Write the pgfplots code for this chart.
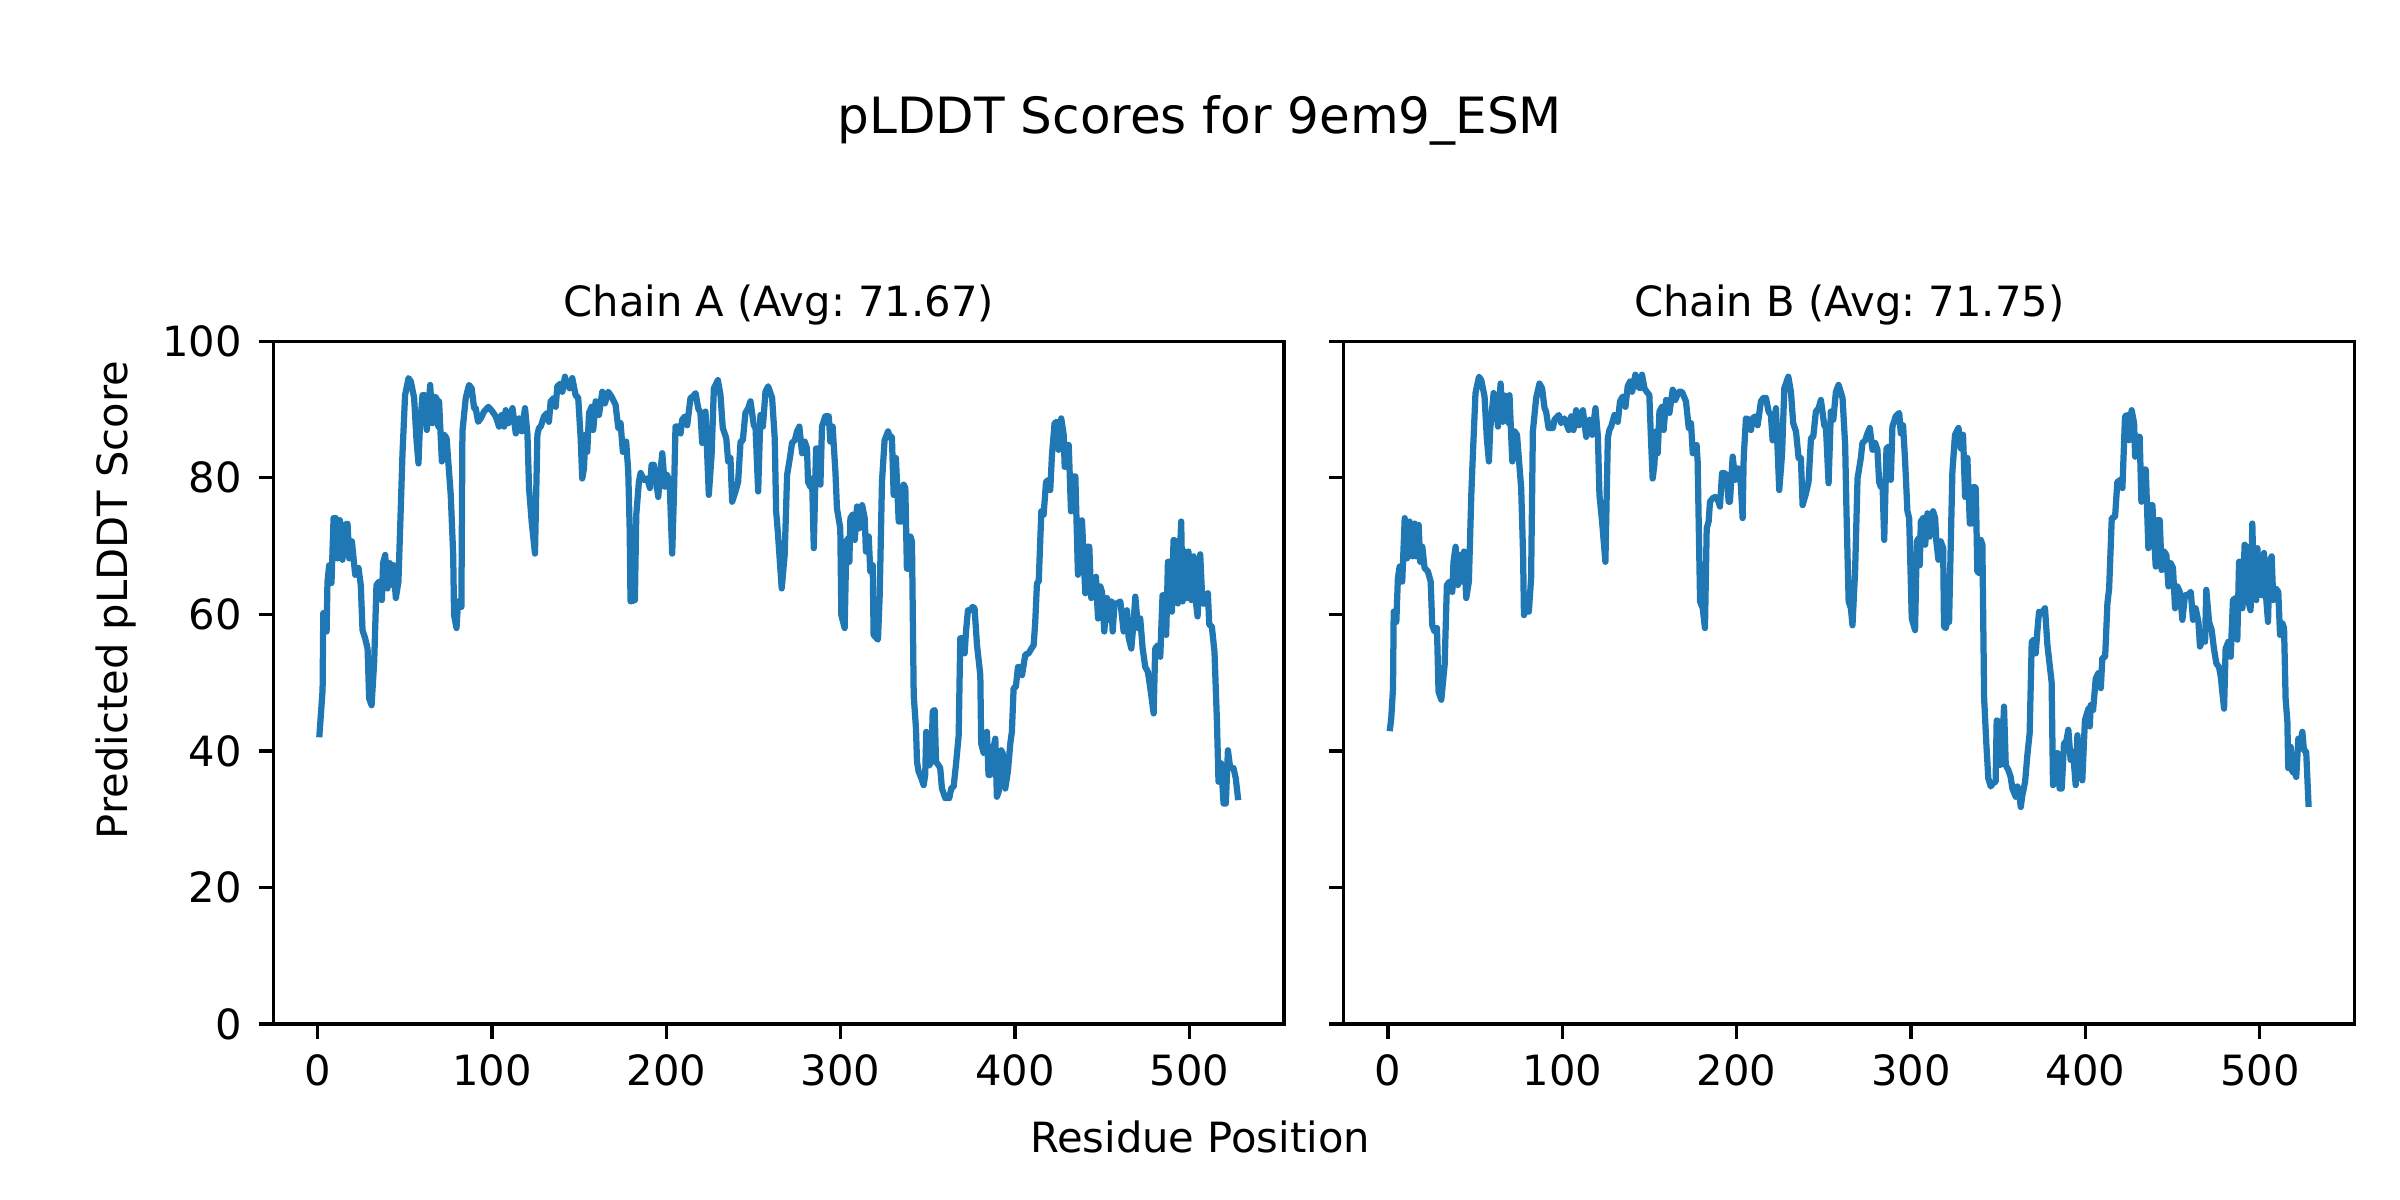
\documentclass[border=0pt]{standalone}
\usepackage{pgfplots}
\pgfplotsset{compat=1.18}
\usepackage{fontspec}
\setmainfont{DejaVu Sans}
\frenchspacing
\definecolor{mplblue}{RGB}{31,119,180}
\pgfplotsset{
  plddt/.style={
    scale only axis,
    width=242.6pt, height=163.9pt,
    xmin=-25.35, xmax=554.35, ymin=0, ymax=100,
    xtick={0,100,200,300,400,500},
    ytick={0,20,40,60,80,100},
    tick align=outside,
    major tick length=3.5pt,
    xtick pos=bottom, ytick pos=left,
    axis line style={line width=0.8pt, black},
    every tick/.style={black, line width=0.8pt},
    /pgf/number format/assume math mode=true,
    ticklabel style={font=\fontsize{10}{12}\selectfont, inner sep=0pt},
    xticklabel style={anchor=north, yshift=-3.5pt},
    yticklabel style={anchor=east, xshift=-3.9pt},
    scaled ticks=false,
  },
  plddtline/.style={mplblue, line width=1.5pt, line join=round, no markers},
}
\begin{document}
\begin{tikzpicture}
\path[use as bounding box] (-65.6pt,-42.2pt) rectangle (510.4pt,245.8pt);
\begin{axis}[plddt, at={(0pt,0pt)}, anchor=south west]
\addplot[plddtline] coordinates {
(1,42)(2.9,48.9)(3.3,60.2)(5.2,57.5)(5.7,64.8)(6.7,67.2)(8,64.6)(9.2,74.1)(10.5,74.1)(11.5,68.2)(12.8,73.8)(14.3,68)(15.7,73.1)(17.2,73.3)(18.2,68.2)(19.7,70.7)(21.6,65.8)(23.5,66.8)(24.8,64.3)(25.8,57.7)(27.3,56.5)(28.7,55)(29.6,47.7)(31,46.7)(32.5,53.1)(33.8,64.3)(35.3,64.8)(36.9,62.1)(37.6,67.5)(38.8,68.7)(40.1,63.8)(41.5,67.5)(43,64.3)(43.6,67.2)(44.9,62.4)(46.4,64.8)(47.8,76)(48.7,83.4)(50.2,92.1)(52.2,94.6)(53.5,94.1)(55.4,91.7)(56.7,85.8)(57.9,82.1)(58.6,86.8)(60.2,92.1)(61.5,92.1)(62.7,87)(64.6,93.6)(65.9,88)(66.9,91.9)(68.2,91.7)(69.3,87.5)(69.7,91.2)(71.3,82.4)(72.6,86.3)(74,85.8)(76.4,77.5)(77.8,68.7)(78.3,59.9)(79.7,58)(80.6,61.9)(82.5,61.1)(83.1,86.8)(85,91.7)(86.9,93.6)(88.4,93.1)(89.8,90.2)(90.7,90.2)(92.1,88.2)(93.6,88.7)(95.5,89.7)(98,90.4)(100.3,89.7)(102.2,89)(104.1,87.5)(105.6,89.2)(107,87.5)(107.9,89.9)(109.5,88)(111.8,90.2)(113.7,86.5)(115.6,88.7)(117.1,86.8)(119,90.2)(120.4,86.3)(121.3,78.5)(122.8,73.6)(124.7,68.9)(126.1,86.3)(127,87.3)
(128,87.5)(129.9,89)(131.8,89.5)(132.7,88.2)(133.7,91.2)(135.6,91.7)(136.6,90.4)(137.5,93.4)(139.4,93.8)(140.4,92.6)(141.9,94.8)(143.2,93.4)(144.2,94.1)(144.6,93.1)(146.1,94.6)(148,92.1)(149.5,91.7)(150.9,85.8)(151.8,79.9)(152.8,81.4)(153.7,86.3)(154.7,83.8)(155.7,89.5)(157.2,90.4)(158.1,87)(159.5,91.2)(161.4,89.2)(163.3,92.6)(164.8,90.9)(166.7,92.6)(168.6,91.9)(170.9,90.7)(172.5,87.3)(173.8,88)(175.1,83.8)(177,85.3)(178.2,80.9)(179,72.6)(179.5,61.9)(182,62.1)(182.8,74.6)(184.3,79.4)(185.3,80.7)(187.2,79.7)(189.1,79.9)(190.6,78.5)(191.6,81.9)(192.9,81.9)(194.2,79.4)(195.4,77.2)(196.1,79.4)(197.7,83.6)(199.2,78.7)(200.5,80.4)(201.9,79.4)(203.4,68.9)(204.4,77.5)(205.3,87.5)(207.2,87.5)(208.2,86.5)(209.1,88.5)(210.7,89)(212,87.7)(213.9,91.7)(215.3,91.9)(216.8,92.4)(218.3,90.2)(219.6,89.5)(220.6,85.1)(221.6,88.2)(222.5,89.7)(224.4,77.5)(226,83.4)(227.3,93.1)(229.6,94.3)(231.1,92.1)(232.4,87.3)(234.4,85.8)(235.5,82.4)(236.8,82.9)(237.8,76.5)(239.7,78)(241.2,79.4)(242.6,85.3)(243.9,85.5)(245.4,89.5)(247,90.2)(248.3,91.2)(250.2,87.7)(251.2,87.3)(252.7,78)(254,89.2)(255.4,87.5)(256.9,92.6)(258.4,93.4)(260.7,91.7)(262.2,85.8)(263,75.1)
(264,72)(266.2,63.8)(267.9,68.7)(269.3,80.4)(271.2,83.4)(272.1,85.1)(273.7,85.5)(275,86.8)(276.3,87.5)(277.9,83.6)(279.4,85.3)(280.7,84.3)(281.3,79.4)(282.6,78.7)(283.6,79.9)(284.6,69.7)(285.9,84.3)(287.4,84.3)(288.4,79)(289.3,87.5)(291.2,89)(293.2,89)(294.1,85.3)(295.4,87.5)(297,80.9)(297.9,75.5)(299.8,72.6)(300.4,59.9)(302.3,58)(303.3,70.7)(304.2,71.1)(305,67.7)(305.6,74.1)(306.9,74.6)(308.1,70.9)(309.4,75.8)(310.7,72.6)(312.3,76)(313.8,74.1)(314.5,69.2)(316.1,71.4)(317,66.3)(318.4,67.2)(318.9,57)(321.4,56.3)(322.4,62.8)(323.7,79.4)(325.2,85.5)(327.2,86.8)(328.5,85.8)(329.4,86)(330.4,77.5)(331.7,82.9)(333.3,73.6)(334.8,73.6)(336.1,79)(337.1,78.5)(338,66.7)(339,66.7)(340,71.4)(340.9,70.7)(341.9,48.2)(343.2,43.3)(343.8,38.4)(344.7,37)(346.3,36)(347.6,35)(348.5,36.5)(349.1,42.8)(350.1,42.3)(350.8,37.9)(352,38.4)(352.8,45.8)(353.9,46)(354.7,38.4)(356.2,37.9)(357.1,37.5)(358.1,34.5)(360,33.1)(362.3,33.1)(363.4,34.5)(364.8,34.8)(366.1,37.9)(367.7,42.3)(368.6,56.5)(370,56.5)(371.1,54.3)(371.9,57.5)(373,60.6)(374.3,60.6)(375.7,61.1)(376.8,60.9)(378.2,55.5)(380.1,51.1)(380.6,41.1)(382,39.7)(382.9,39.9)(383.9,42.8)(384.8,36.5)(385.8,36.5)(387.1,39.7)(388.7,41.8)(389.6,33.3)(390.6,34)(392.1,40.1)(392.9,39.7)(394.4,34.5)(395.9,37)(397.3,41.1)(398.2,42.8)(399.2,49.2)(400.5,49.4)(401.7,52.3)
(403,52.3)(404,51.1)(405.9,54.1)(407.8,54.3)(409.4,55)(410.7,55.5)(411.6,58.9)(412.6,64.6)(413.6,64.8)(415.1,75.1)(416.4,74.6)(417.8,79.4)(419.3,79.7)(420.2,78.2)(421.2,83.4)(422.7,88)(424.1,88.2)(425,84.1)(426.5,88.7)(427.9,86.3)(428.5,81.6)(429.8,84.8)(430.8,84.8)(432.1,75.1)(433.6,80.2)(434.6,80.2)(436.1,65.8)(437.4,73.6)(438.4,73.8)(440.3,63.1)(441.3,69.9)(442.6,69.9)(443.7,62.4)(445.1,63.8)(446.4,65.5)(447.6,59.4)(448.9,64.1)(449.9,63.3)(451.2,57.5)(452.7,62.4)(453.7,59.2)(455.2,61.9)(456,57.5)(457.1,61.6)(458.6,61.6)(460.4,61.9)(462.3,57.5)(464.2,60.6)(465.1,56.7)(466.7,55)(468,58.9)(469,62.6)(470.5,58)(471.8,59.4)(473.2,55)(474.7,52.3)(476.2,51.6)(477.6,49.2)(479.5,45.5)(480.4,55)(482,55.5)(483.3,53.8)(484.6,62.8)(485.8,62.8)(486.7,57)(487.7,67.7)(489,67.7)(490,60.4)(490.9,70.9)(492.3,70.7)(493.4,61.6)(495.3,73.6)(496.1,61.9)(497.6,69.2)(498.6,62.4)(499.5,69.2)(501.1,62.1)(502.4,68.5)(503.3,62.8)(504.7,59.7)(506.2,68.8)(507.5,61.6)(509.1,61.6)(510.6,63.1)(511.4,58.5)(512.9,58.2)(514.4,54.5)(515.8,44.3)(516.7,35.5)(518.2,38.2)(519.6,32.3)(520.9,32.3)(522.1,40.1)(523.4,37.5)(525.3,37.5)(526.6,36)(528,32.8)
};
\end{axis}
\begin{axis}[plddt, at={(256.9pt,0pt)}, anchor=south west, yticklabels={}]
\addplot[plddtline] coordinates {
(1,42.9)(1.9,44.8)(2.9,49.2)(3.3,60.4)(4.8,58.9)(5.7,65.3)(6.7,67)(8.2,64.8)(9.6,74.1)(10.9,68.2)(12.4,73.6)(14,68.5)(15.3,73.3)(16.2,68.5)(17.6,73.1)(18.5,67.7)(19.7,69.9)(21,66.8)(22.9,66.3)(24.5,64.8)(25.4,58.4)(26.7,57.5)(28.1,58)(29,48.7)(30.6,47.5)(32.5,52.6)(33.8,64.3)(35.3,64.8)(36.9,63.3)(37.6,67.7)(38.8,69.9)(40.1,64.3)(41.5,68.7)(42.6,64.8)(43.6,69.2)(44.9,62.4)(46.4,64.8)(47.8,77.5)(48.7,83.4)(50.2,92.4)(52.2,94.8)(53.5,94.3)(55.4,91.9)(56.7,85.8)(57.9,82.4)(58.6,87)(60.6,92.4)(61.7,91.9)(63.1,87.5)(64.6,93.8)(65.9,88.2)(66.9,92.1)(68.2,91.7)(69.3,88)(69.7,92.1)(71.3,82.4)(72.6,86.8)(74,86.3)(76.4,78.5)(77.5,68.7)(78,59.9)(79.3,60.9)(80.8,60.4)(82.1,65.3)(83.1,86.8)(85,91.7)(86.9,93.8)(88.4,93.1)(89.8,90.2)(90.7,89.7)(92.1,87.3)(94.6,87.3)(95.5,88.5)(98,89.2)(99.3,88)(101.2,88.7)(103.7,87)(105.1,89)(106.4,87)(107.9,89.9)(109.5,87.7)(111.8,89.9)(113.7,86)(115.6,88.5)(117.1,86.3)(119,90.2)(120.4,86)(121.3,77.5)(122.8,73.6)(124.7,67.7)(126.1,85.8)(127,87)
(128,87.5)(129.9,89.2)(131.8,88.2)(133.1,91.2)(134.6,91.9)(136.2,90.4)(137.5,93.4)(138.8,94.1)(140,92.6)(141.9,95.1)(143.2,93.4)(144.6,93.1)(145.7,95.1)(147.1,93.1)(148.4,92.6)(149.9,92.1)(150.9,85.3)(151.8,79.9)(152.8,81.9)(153.7,86.8)(154.7,83.6)(155.7,89.7)(157.2,90.4)(158.1,87)(159.5,91.4)(161.4,89.5)(163.3,92.9)(164.8,91.4)(166.7,92.6)(168.6,92.6)(170.9,91.2)(172.5,87.3)(173.8,88)(174.8,83.6)(177,84.8)(177.6,82.4)(179,61.9)(180.5,60.9)(181.8,58)(182.8,72.6)(183.9,73.6)(184.7,76.5)(186.2,77)(187.7,77.2)(189.1,76.8)(190.4,75.8)(191.6,80.7)(192.9,80.7)(194.2,80.4)(195.4,76.5)(196.1,76.5)(197.7,83.1)(199.2,79.7)(200.5,81.4)(201.9,81.2)(203.4,74.1)(204,82.9)(205.3,88.7)(207.2,88.5)(208.2,87)(209.1,88.7)(210.7,89)(212,87.7)(213.9,91.2)(215.3,91.7)(216.8,91.7)(218.3,89.7)(219.6,89.2)(220.6,85.5)(221.6,87.7)(222.5,90.2)(224.4,78.2)(226,83.4)(227.3,93.1)(229.6,94.8)(231.1,92.6)(232.4,88)(234,86.8)(235.5,82.9)(236.8,82.9)(237.8,76)(239.7,77.7)(241.2,79.4)(242.6,85.8)(243.9,86)(245.4,89.7)(247,90.2)(248.3,91.4)(250.2,87.7)(251.2,87.3)(252.7,79.2)(254,89.7)(255.4,88.5)(256.9,92.6)(258.4,93.6)(260.7,91.7)(262.2,84.8)(263,74.6)(264.2,61.9)
(265.5,60.9)(266.4,58.4)(267.9,66.3)(269.3,79.9)(271.2,82.9)(272.1,85.1)(273.7,85.5)(275,86.5)(276.3,87.3)(277.9,84.1)(279.4,85.1)(280.7,84.1)(281.7,79.4)(282.6,78.7)(283.6,79.4)(284.6,70.9)(285.9,84.3)(287.4,84.6)(288.4,79.7)(289.3,87.5)(291.2,89)(293.2,89.5)(294.1,86.5)(295.4,87.7)(296.6,82.4)(297.9,75.1)(298.9,74.1)(300.4,59.4)(302.3,57.7)(303.3,70.7)(304.2,71.1)(305,67.2)(305.6,73.6)(306.9,74.1)(308.1,70.2)(309.4,74.8)(310.7,71.4)(312.6,75.1)(313.8,74.1)(314.5,70.7)(315.7,68)(317,70.7)(318.4,69.7)(318.9,58.2)(319.9,58)(320.9,59.2)(321.8,58.9)(322.8,70.7)(323.7,80.9)(325.2,86.3)(327.2,87.3)(328.5,84.3)(329.8,86.3)(331,77.2)(332.3,82.9)(333.7,73.3)(334.8,73.3)(336.1,78.7)(337.1,78.5)(338,66.3)(339.4,66)(340,70.9)(340.9,70.2)(341.9,47.7)(343.2,40.9)(344.3,36)(345.7,34.8)(347,35.3)(348.5,35.5)(349.1,44.5)(350.1,44.3)(350.8,37.9)(352,38.2)(353.3,46.5)(354.3,37.9)(355.8,37.2)(357.1,36.2)(358.1,34.5)(360,33.3)(361,34.8)(361.9,34)(362.9,31.8)(363.8,33.5)(365.4,35.5)(366.7,39.4)(368,42.6)(369.2,56)(370.5,56.3)(371.5,54.3)(372.4,57.5)(373.4,60.4)(374.9,60.2)(376.8,60.9)(378.2,55.5)(380.6,50.1)(381.4,35)(382.6,35.5)(383.9,39.7)(385.2,34.5)(386.4,34.5)(387.7,41.1)(389,41.4)(390.2,43.1)(391.5,38.7)(392.9,39.9)(394.4,35)(395.4,42.3)(396.7,38.2)(398.2,35.7)(399.7,44.5)(401.7,46.2)
(402.5,43.6)(403,46.7)(404.4,46)(405.9,50.6)(407.4,51.4)(408.8,49.2)(409.7,53.6)(411.3,53.8)(412.6,61.6)(413.6,63.8)(415.1,74.1)(417,74.3)(418.3,79.4)(420.2,79.7)(421.2,78.5)(422.7,89)(424.1,89.2)(425,85.5)(426.5,89.9)(427.9,88)(428.5,83.1)(429.8,86)(431.1,86)(432.1,76.5)(433.6,81.2)(434.6,81.2)(436.1,69.7)(437.4,76)(438.4,76)(440.3,67)(441.3,73.8)(442.6,73.8)(443.7,66.5)(445.1,69.2)(446.4,68.7)(447.6,64.1)(448.9,67.5)(450.2,66.8)(451.4,60.9)(452.7,64.1)(454.1,63.3)(455.6,59.2)(457.1,62.8)(458.6,62.8)(460.4,63.3)(461.7,59.2)(463.2,60.9)(464.8,58.9)(465.7,55.3)(467.4,56.5)(468.6,56)(469.3,63.6)(470.9,58.9)(472.4,57.7)(473.7,55)(475.1,52.8)(476.6,52.3)(477.6,50.9)(479.5,46.2)(480.4,55)(482,56)(483.3,53.8)(484.6,62.1)(486.2,62.4)(487.1,56.3)(488.1,67.7)(489,67.7)(490,60.9)(491.3,70.2)(492.3,69.9)(493.4,61.9)(494.7,60.6)(495.7,73.3)(496.7,62.8)(498,62.1)(498.6,69.7)(499.9,63.3)(501.1,62.8)(502.4,69)(503.3,63.6)(504.7,58.9)(505.6,67.7)(506.8,68.5)(507.7,62.1)(509.1,63.8)(510.6,63.3)(511.6,57)(512.9,58.7)(513.9,58)(514.8,47.7)(515.8,44.3)(516.3,37.5)(517.7,40.6)(518.6,37)(520.2,36.7)(520.9,36.2)(522.1,41.8)(523.4,41.4)(524.4,42.8)(525.3,40.1)(526.6,39.9)(528,31.8)
};
\end{axis}
\node[anchor=base, inner sep=0pt, font=\fontsize{12}{14.4}\selectfont] at (222.4pt,213.8pt) {pLDDT Scores for 9em9\_ESM};
\node[anchor=base, inner sep=0pt, font=\fontsize{10}{12}\selectfont] at (121.3pt,169.8pt) {Chain A (Avg: 71.67)};
\node[anchor=base, inner sep=0pt, font=\fontsize{10}{12}\selectfont] at (378.2pt,169.8pt) {Chain B (Avg: 71.75)};
\node[anchor=base, inner sep=0pt, font=\fontsize{10}{12}\selectfont] at (222.4pt,-30.7pt) {Residue Position};
\node[anchor=base, inner sep=0pt, rotate=90, font=\fontsize{10}{12}\selectfont] at (-34.9pt,101.8pt) {Predicted pLDDT Score};
\end{tikzpicture}
\end{document}
